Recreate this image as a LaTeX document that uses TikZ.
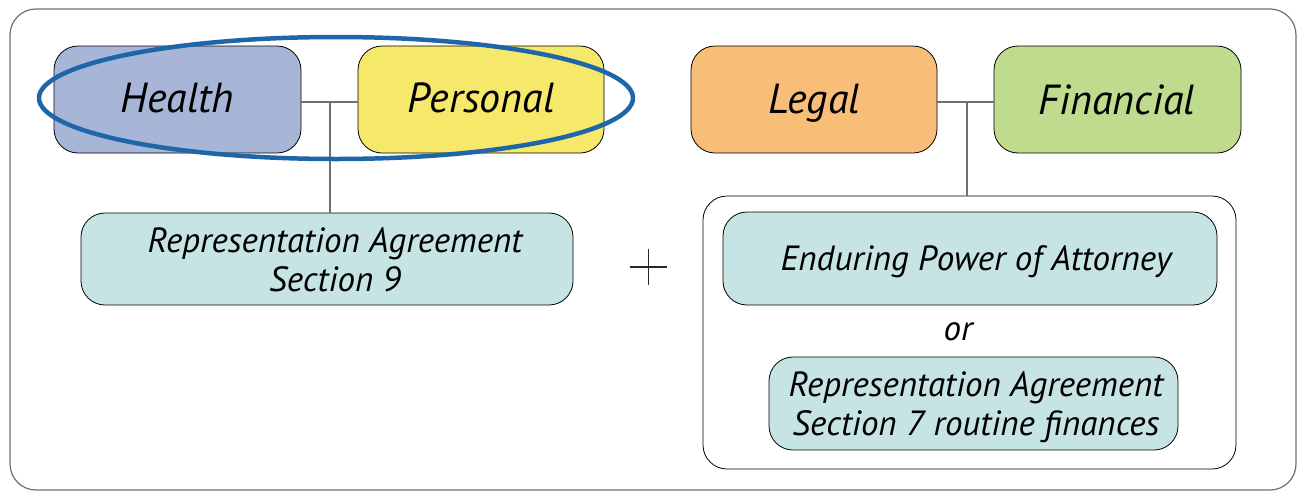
\documentclass[tikz,border=0pt]{standalone}
\usepackage{fontspec}
\setmainfont{PT Sans}
\definecolor{cHealth}{HTML}{A7B6D7}
\definecolor{cPers}{HTML}{F6E86A}
\definecolor{cLegal}{HTML}{F8BE78}
\definecolor{cFin}{HTML}{BEDB8E}
\definecolor{cTeal}{HTML}{C6E4E3}
\definecolor{cBlue}{HTML}{1E66A8}
\definecolor{cLine}{HTML}{707070}
\tikzset{
  box/.style={draw=black, line width=0.8pt, rounded corners=24pt, inner sep=0pt},
  big/.style={font=\itshape\fontsize{42}{46}\selectfont, anchor=base, inner sep=0pt},
  small/.style={font=\itshape\fontsize{35}{40}\selectfont, anchor=base, inner sep=0pt},
  conn/.style={draw=cLine, line width=1.6pt},
}
\begin{document}
\begin{tikzpicture}[x=1pt,y=-1pt]
\useasboundingbox (0,0) rectangle (1299,493);
\draw[draw=cLine, line width=1.2pt, rounded corners=26pt] (10,9) rectangle (1296,490);
% left
\node[box, fill=cHealth, minimum width=247pt, minimum height=107pt] (health) at (177.5,99.5) {};
\node[big] (thealth) at (177,112) {Health};
\node[box, fill=cPers, minimum width=246pt, minimum height=107pt] (pers) at (481,99.5) {};
\node[big] (tpers) at (481,112) {Personal};
\node[box, fill=cTeal, minimum width=492pt, minimum height=92pt] (ra9) at (327,259) {};
\node[small] (tra9a) at (335,252) {Representation Agreement};
\node[small] (tra9b) at (335,291) {Section 9};
\coordinate (j1) at (330,102);
\draw[conn] (health.east |- j1) -- (pers.west |- j1);
\draw[conn] (j1) -- (j1 |- ra9.north);
\draw[cBlue, line width=4.5pt] (336,98) ellipse [x radius=297pt, y radius=61pt];
% plus
\coordinate (plus) at (648.5,267);
\draw[line width=1.2pt, draw=black!85] ([xshift=-18.5pt]plus) -- ([xshift=18.5pt]plus) ([yshift=-18pt]plus) -- ([yshift=18pt]plus);
% right
\node[box, fill=cLegal, minimum width=246pt, minimum height=107pt] (legal) at (814,99.5) {};
\node[big] (tlegal) at (814,113) {Legal};
\node[box, fill=cFin, minimum width=247pt, minimum height=107pt] (fin) at (1117.5,99.5) {};
\node[big] (tfin) at (1117,114) {Financial};
\node[box, fill=white, minimum width=533pt, minimum height=273pt] (cont) at (969.5,332.5) {};
\coordinate (j2) at (967,102);
\draw[conn] (legal.east |- j2) -- (fin.west |- j2);
\draw[conn] (j2) -- (j2 |- cont.north);
\node[box, fill=cTeal, minimum width=494pt, minimum height=93pt] (epa) at (970,258.5) {};
\node[small] (tepa) at (976,270) {Enduring Power of Attorney};
\node[small] (or) at (958,340) {or};
\node[box, fill=cTeal, minimum width=409pt, minimum height=93pt] (ra7) at (973.5,403.5) {};
\node[small] (tra7a) at (976,396) {Representation Agreement};
\node[small] (tra7b) at (976,435) {Section 7 routine finances};
\end{tikzpicture}
\end{document}
